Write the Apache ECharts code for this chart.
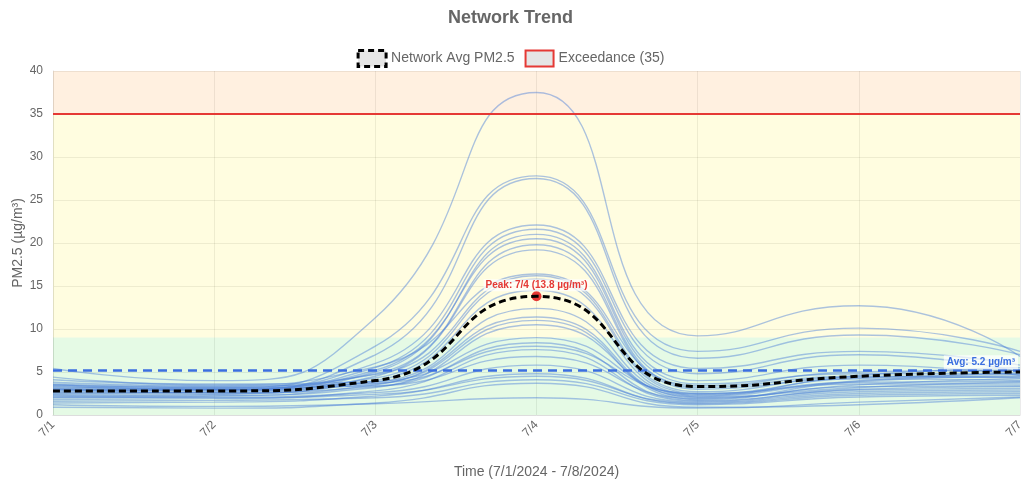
<!DOCTYPE html>
<html><head><meta charset="utf-8">
<script src="https://cdn.jsdelivr.net/npm/echarts@6/dist/echarts.min.js"></script>
<style>html,body{margin:0;padding:0;background:#fff;overflow:hidden}#c{width:1021px;height:485px}</style>
</head><body><div id="c"></div><script>
const days = ['7/1','7/2','7/3','7/4','7/5','7/6','7/7'];
const yTicks = [0, 40, 5];
const bandLimits = [0, 9, 35, 40];
const exceedance = 35;
const overallAvg = 5.2;
const networkAvg = [2.8, 2.8, 4.0, 13.8, 3.3, 4.5, 5.0];
const s01 = [5.4, 4.0, 11.3, 37.5, 9.2, 12.7, 6.8];
const s02 = [3.5, 3.2, 8.0, 27.8, 7.4, 10.1, 7.4];
const s03 = [3.0, 3.0, 7.0, 27.5, 6.6, 9.3, 7.0];
const s04 = [3.2, 3.0, 6.0, 22.1, 5.4, 7.4, 5.8];
const s05 = [2.8, 2.9, 5.5, 21.6, 4.8, 7.0, 5.0];
const s06 = [3.0, 2.6, 5.0, 21.0, 4.0, 5.8, 4.6];
const s07 = [2.5, 2.7, 5.2, 20.5, 3.6, 4.8, 4.8];
const s08 = [3.3, 3.1, 4.8, 19.8, 3.2, 4.5, 4.3];
const s09 = [2.2, 2.4, 4.5, 19.2, 3.0, 4.2, 4.0];
const s10 = [4.4, 3.5, 5.6, 16.4, 3.4, 5.0, 5.2];
const s11 = [3.6, 3.3, 4.7, 16.2, 2.7, 4.4, 4.4];
const s12 = [2.9, 2.9, 4.3, 15.8, 2.5, 4.0, 4.9];
const s13 = [2.6, 2.5, 4.0, 14.5, 2.3, 3.8, 3.9];
const s14 = [3.4, 3.0, 3.8, 12.4, 2.2, 3.6, 3.6];
const s15 = [2.4, 2.3, 3.5, 11.4, 2.0, 3.5, 4.2];
const s16 = [3.1, 2.8, 3.6, 11.0, 1.8, 3.3, 3.4];
const s17 = [2.0, 2.2, 3.2, 10.5, 2.1, 3.2, 3.8];
const s18 = [4.1, 3.6, 3.9, 9.0, 2.4, 4.6, 5.5];
const s19 = [2.7, 2.6, 3.3, 8.4, 1.7, 3.0, 3.3];
const s20 = [1.8, 1.9, 2.8, 7.6, 1.6, 2.9, 3.1];
const s21 = [3.5, 3.2, 3.4, 6.8, 1.9, 3.9, 4.5];
const s22 = [2.3, 2.1, 2.6, 5.8, 1.5, 2.7, 2.9];
const s23 = [1.4, 1.5, 2.2, 4.8, 1.3, 2.3, 2.5];
const s24 = [2.1, 2.0, 2.4, 4.5, 1.4, 2.5, 2.7];
const s25 = [1.6, 1.7, 2.0, 4.1, 1.2, 2.1, 2.3];
const s26 = [0.9, 0.8, 1.4, 3.7, 0.9, 1.2, 2.0];
const s27 = [1.2, 1.0, 1.3, 2.0, 0.8, 1.5, 2.1];
const s28 = [3.8, 3.4, 3.7, 8.0, 2.5, 4.3, 4.7];
const sensors = [s01,s02,s03,s04,s05,s06,s07,s08,s09,s10,s11,s12,s13,s14,s15,s16,s17,s18,s19,s20,s21,s22,s23,s24,s25,s26,s27,s28];

const FONT = '"Liberation Sans", Arial, sans-serif';
const SMOOTH = 0.55;
const peakIdx = networkAvg.indexOf(Math.max(...networkAvg));
const peakVal = networkAvg[peakIdx];

const series = sensors.map((d, i) => ({
  name: 'Sensor ' + (i + 1), type: 'line', data: d, smooth: SMOOTH, symbol: 'none',
  lineStyle: { color: 'rgba(70,124,214,0.45)', width: 1.4 }, z: 3, silent: true
}));

series.push({
  name: 'Exceedance (35)', type: 'line', data: days.map(() => exceedance), symbol: 'none',
  lineStyle: { color: '#e53935', width: 2 }, itemStyle: { color: '#e53935' }, z: 4,
  markArea: {
    silent: true,
    data: [
      [{ yAxis: bandLimits[0], itemStyle: { color: 'rgba(0,210,0,0.1)' } }, { yAxis: bandLimits[1] }],
      [{ yAxis: bandLimits[1], itemStyle: { color: 'rgba(255,240,0,0.12)' } }, { yAxis: bandLimits[2] }],
      [{ yAxis: bandLimits[2], itemStyle: { color: 'rgba(255,130,0,0.12)' } }, { yAxis: bandLimits[3] }]
    ],
    z: 1
  }
});

series.push({
  name: 'Network Avg PM2.5', type: 'line', data: networkAvg, smooth: SMOOTH, symbol: 'none',
  lineStyle: { color: '#000', width: 3, type: [7, 4] }, itemStyle: { color: '#000' }, z: 6,
  markLine: {
    silent: true, symbol: 'none',
    lineStyle: { color: '#3b6fe0', width: 2.5, type: [9, 6] },
    label: {
      position: 'insideEndTop', formatter: 'Avg: ' + overallAvg.toFixed(1) + ' µg/m³',
      color: '#3b6fe0', fontWeight: 'bold', fontSize: 10, fontFamily: FONT,
      backgroundColor: 'rgba(255,255,255,0.7)', padding: [2, 3], distance: [2, 1]
    },
    data: [{ yAxis: overallAvg }]
  },
  markPoint: {
    silent: true, symbol: 'circle', symbolSize: 10,
    itemStyle: { color: '#e53935' },
    label: {
      show: true, position: 'top', distance: 0,
      formatter: 'Peak: ' + days[peakIdx] + ' (' + peakVal.toFixed(1) + ' µg/m³)',
      color: '#e53935', fontWeight: 'bold', fontSize: 10, fontFamily: FONT,
      backgroundColor: 'rgba(255,255,255,0.7)', padding: [1, 2]
    },
    data: [{ coord: [peakIdx, peakVal] }]
  }
});

const chart = echarts.init(document.getElementById('c'), null, { renderer: 'canvas' });
chart.setOption({
  animation: false,
  textStyle: { fontFamily: FONT },
  title: {
    text: 'Network Trend', left: 'center', top: 4,
    textStyle: { fontSize: 18, fontWeight: 'bold', color: '#666', fontFamily: FONT }
  },
  legend: {
    top: 44, left: 'center', itemWidth: 28, itemHeight: 16, itemGap: 10,
    textStyle: { fontSize: 14, color: '#666', fontFamily: FONT },
    data: [
      { name: 'Network Avg PM2.5', icon: 'rect',
        itemStyle: { color: 'rgba(0,0,0,0.1)', borderColor: '#000', borderWidth: 3, borderType: [6, 4] } },
      { name: 'Exceedance (35)', icon: 'rect',
        itemStyle: { color: 'rgba(0,0,0,0.1)', borderColor: '#e53935', borderWidth: 2 } }
    ]
  },
  grid: { left: 53, right: 1, top: 71, bottom: 70, containLabel: false, outerBoundsMode: 'none' },
  xAxis: {
    type: 'category', data: days, boundaryGap: false,
    name: 'Time (7/1/2024 - 7/8/2024)', nameLocation: 'middle', nameGap: 50, nameMoveOverlap: false,
    nameTextStyle: { fontSize: 14, color: '#666', fontFamily: FONT },
    axisLine: { lineStyle: { color: '#ddd' } },
    axisTick: { show: false },
    axisLabel: { rotate: 45, fontSize: 12, color: '#666', margin: 8, fontFamily: FONT },
    splitLine: { show: true, lineStyle: { color: 'rgba(0,0,0,0.08)' } }
  },
  yAxis: {
    type: 'value', min: yTicks[0], max: yTicks[1], interval: yTicks[2],
    name: 'PM2.5 (µg/m³)', nameLocation: 'middle', nameGap: 28, nameRotate: 90, nameMoveOverlap: false,
    nameTextStyle: { fontSize: 14, color: '#666', fontFamily: FONT },
    axisLine: { show: true, lineStyle: { color: '#ddd' } },
    axisTick: { show: false },
    axisLabel: { fontSize: 12, color: '#666', margin: 10, fontFamily: FONT },
    splitLine: { show: true, lineStyle: { color: 'rgba(0,0,0,0.08)' } }
  },
  series: series
});
</script></body></html>
